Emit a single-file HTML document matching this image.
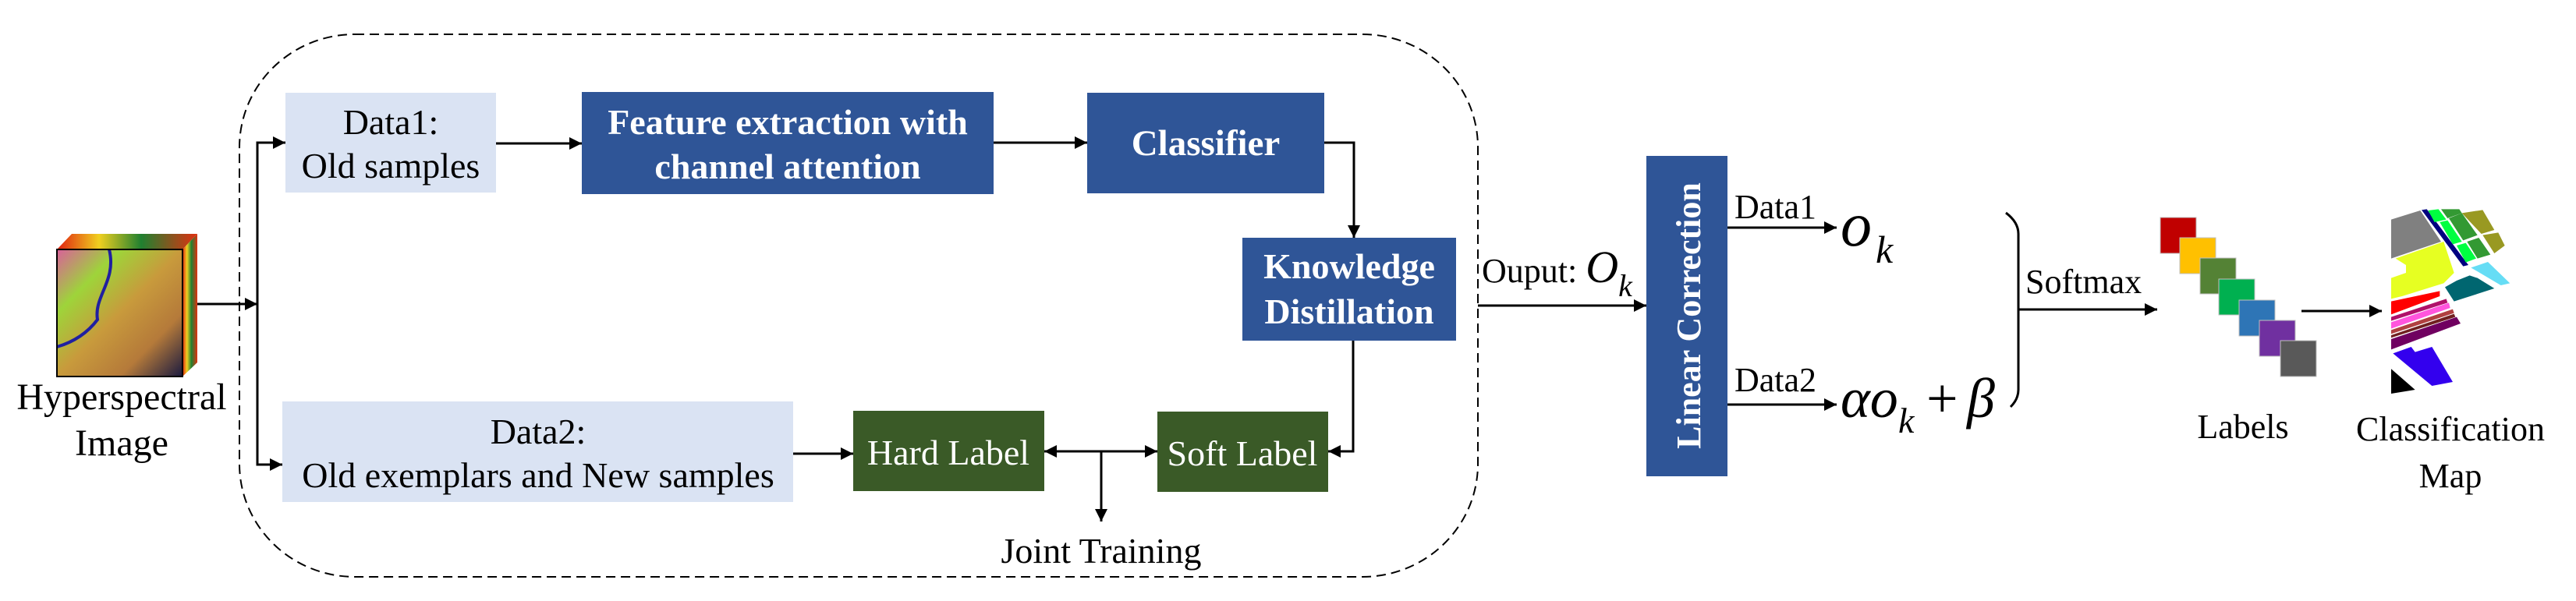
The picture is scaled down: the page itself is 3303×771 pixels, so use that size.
<!DOCTYPE html>
<html><head><meta charset="utf-8"><style>
html,body{margin:0;padding:0;background:#fff;}
svg{display:block;}
text{font-family:"Liberation Serif",serif;}
</style></head><body>
<svg width="3303" height="771" viewBox="0 0 3303 771" xmlns="http://www.w3.org/2000/svg">
<defs>
<marker id="a" viewBox="0 0 10 10" refX="10" refY="5" markerWidth="16" markerHeight="16" orient="auto-start-reverse" markerUnits="userSpaceOnUse"><path d="M0,0 L10,5 L0,10 z" fill="#000"/></marker>
<linearGradient id="img" x1="0" y1="0" x2="1" y2="1">
<stop offset="0" stop-color="#d9609a"/><stop offset="0.25" stop-color="#9ed43a"/><stop offset="0.5" stop-color="#c89a3c"/><stop offset="0.75" stop-color="#b57a3a"/><stop offset="1" stop-color="#1a1a40"/></linearGradient>
<linearGradient id="side" x1="0" y1="0" x2="1" y2="0">
<stop offset="0" stop-color="#e02010"/><stop offset="0.3" stop-color="#f0d020"/><stop offset="0.6" stop-color="#208030"/><stop offset="1" stop-color="#e03010"/></linearGradient>
</defs>

<polygon points="73,320 92,300 253,300 234,320" fill="url(#side)"/>
<polygon points="234,320 253,300 253,465 234,483" fill="url(#side)"/>
<rect x="73" y="320" width="161" height="163" fill="url(#img)"/>
<path d="M140,320 C150,360 120,380 125,410 C110,430 90,440 73,445" stroke="#2020a0" stroke-width="4" fill="none"/>
<rect x="73" y="320" width="161" height="163" fill="none" stroke="#000" stroke-width="2"/>
<text x="156" y="525" font-size="48" text-anchor="middle">Hyperspectral</text>
<text x="156" y="584" font-size="48" text-anchor="middle">Image</text>

<g stroke="#000" stroke-width="3" fill="none">
<line x1="253" y1="390" x2="330" y2="390" marker-end="url(#a)"/>
<polyline points="364,183 330,183 330,596 360,596" />
</g>
<line x1="330" y1="183" x2="366" y2="183" stroke="#000" stroke-width="3" marker-end="url(#a)"/>
<line x1="330" y1="596" x2="362" y2="596" stroke="#000" stroke-width="3" marker-end="url(#a)"/>

<rect x="307" y="44" width="1588" height="696" rx="148" ry="145" fill="none" stroke="#000" stroke-width="2" stroke-dasharray="12,7"/>

<rect x="366" y="119" width="270" height="128" fill="#dae3f3"/>
<text x="501" y="172" font-size="46" text-anchor="middle">Data1:</text>
<text x="501" y="228" font-size="46" text-anchor="middle">Old samples</text>
<rect x="746" y="118" width="528" height="131" fill="#2f5597"/>
<text x="1010" y="172" font-size="46" font-weight="bold" fill="#fff" text-anchor="middle">Feature extraction with</text>
<text x="1010" y="229" font-size="46" font-weight="bold" fill="#fff" text-anchor="middle">channel attention</text>
<rect x="1394" y="119" width="304" height="129" fill="#2f5597"/>
<text x="1546" y="199" font-size="47" font-weight="bold" fill="#fff" text-anchor="middle">Classifier</text>
<rect x="1593" y="305" width="274" height="132" fill="#2f5597"/>
<text x="1730" y="357" font-size="46" font-weight="bold" fill="#fff" text-anchor="middle">Knowledge</text>
<text x="1730" y="415" font-size="46" font-weight="bold" fill="#fff" text-anchor="middle">Distillation</text>
<rect x="362" y="515" width="655" height="129" fill="#dae3f3"/>
<text x="690" y="569" font-size="46" text-anchor="middle">Data2:</text>
<text x="690" y="625" font-size="46" text-anchor="middle">Old exemplars and New samples</text>
<rect x="1094" y="527" width="245" height="103" fill="#3a5a27"/>
<text x="1216" y="596" font-size="46" fill="#fff" text-anchor="middle">Hard Label</text>
<rect x="1484" y="528" width="219" height="103" fill="#3a5a27"/>
<text x="1593" y="597" font-size="46" fill="#fff" text-anchor="middle">Soft Label</text>
<text x="1412" y="722" font-size="46" text-anchor="middle">Joint Training</text>

<g stroke="#000" stroke-width="3" fill="none">
<line x1="636" y1="184" x2="746" y2="184" marker-end="url(#a)"/>
<line x1="1274" y1="183" x2="1394" y2="183" marker-end="url(#a)"/>
<polyline points="1698,183 1736,183 1736,305" marker-end="url(#a)"/>
<polyline points="1735,437 1735,579 1703,579" marker-end="url(#a)"/>
<line x1="1017" y1="582" x2="1094" y2="582" marker-end="url(#a)"/>
<line x1="1339" y1="579" x2="1484" y2="579" marker-start="url(#a)" marker-end="url(#a)"/>
<line x1="1412" y1="579" x2="1412" y2="669" marker-end="url(#a)"/>
<line x1="1895" y1="392" x2="2111" y2="392" marker-end="url(#a)"/>
<line x1="2215" y1="292" x2="2355" y2="292" marker-end="url(#a)"/>
<line x1="2215" y1="519" x2="2355" y2="519" marker-end="url(#a)"/>
<path d="M2572,273 Q2588,285 2588,300 L2588,500 Q2588,512 2578,522"/>
<line x1="2588" y1="397" x2="2766" y2="397" marker-end="url(#a)"/>
<line x1="2951" y1="399" x2="3054" y2="399" marker-end="url(#a)"/>
</g>

<text x="1900" y="362" font-size="44">Ouput: <tspan font-style="italic" font-size="58">O</tspan><tspan font-style="italic" font-size="40" dy="18">k</tspan></text>

<rect x="2111" y="200" width="104" height="411" fill="#2f5597"/>
<text transform="translate(2180,405) rotate(-90)" font-size="44" font-weight="bold" fill="#fff" text-anchor="middle">Linear Correction</text>

<text x="2224" y="280" font-size="44">Data1</text>
<text x="2224" y="502" font-size="44">Data2</text>
<text x="2360" y="315" font-size="80" font-style="italic">o</text>
<text x="2405" y="337" font-size="50" font-style="italic">k</text>
<text x="2360" y="535" font-size="72" font-style="italic">αo</text>
<text x="2434" y="555" font-size="46" font-style="italic">k</text>
<text x="2470" y="535" font-size="72">+</text>
<text x="2522" y="535" font-size="72" font-style="italic">β</text>

<text x="2597" y="376" font-size="44">Softmax</text>

<g stroke="#bfbfbf" stroke-width="1">
<rect x="2770" y="279" width="46" height="46" fill="#c00000"/>
<rect x="2795" y="305" width="46" height="46" fill="#ffc000"/>
<rect x="2821" y="331" width="46" height="46" fill="#548235"/>
<rect x="2845" y="358" width="46" height="46" fill="#00b050"/>
<rect x="2871" y="385" width="46" height="46" fill="#2e75b6"/>
<rect x="2897" y="411" width="46" height="46" fill="#7030a0"/>
<rect x="2924" y="437" width="46" height="46" fill="#595959"/>
</g>
<text x="2876" y="562" font-size="44" text-anchor="middle">Labels</text>
<text x="3142" y="565" font-size="44" text-anchor="middle">Classification</text>
<text x="3142" y="625" font-size="44" text-anchor="middle">Map</text>

<g transform="translate(3050,260) scale(0.3333)">
<polygon points="48,65 160,30 240,150 48,215" fill="#808080"/>
<polygon points="165,28 185,25 345,240 325,245" fill="#000080"/>
<polygon points="190,30 230,25 260,65 215,75" fill="#00ff40"/>
<polygon points="235,75 265,68 320,150 285,160" fill="#00ff40"/>
<polygon points="300,165 335,155 375,215 335,230" fill="#00ff40"/>
<polygon points="240,25 310,25 320,40 265,60" fill="#339933"/>
<polygon points="270,60 320,40 380,125 325,145" fill="#339933"/>
<polygon points="340,150 385,135 430,200 380,215" fill="#339933"/>
<polygon points="320,40 400,28 445,105 395,120" fill="#999922"/>
<polygon points="400,125 460,115 485,165 445,195" fill="#999922"/>
<polygon points="65,215 250,150 290,270 250,310 90,360 48,370 48,290 105,270 105,240" fill="#e6ff22"/>
<polygon points="355,250 420,228 505,310 470,318" fill="#66ddf5"/>
<polygon points="255,325 300,300 350,280 380,290 445,330 290,380" fill="#006670"/>
<polygon points="48,380 235,340 235,360 48,430" fill="#ff0000"/>
<polygon points="48,440 260,370 265,385 48,455" fill="#b0106a"/>
<polygon points="48,460 270,385 275,405 48,485" fill="#ff55dd"/>
<polygon points="48,490 285,410 290,425 48,505" fill="#b04040"/>
<polygon points="48,510 290,428 295,440 48,520" fill="#702020"/>
<polygon points="48,525 300,440 315,465 48,565" fill="#700060"/>
<polygon points="55,580 125,555 140,575 205,555 285,690 205,705" fill="#3300ee"/>
<polygon points="48,640 140,720 48,735" fill="#000"/>
</g>
</svg>
</body></html>
